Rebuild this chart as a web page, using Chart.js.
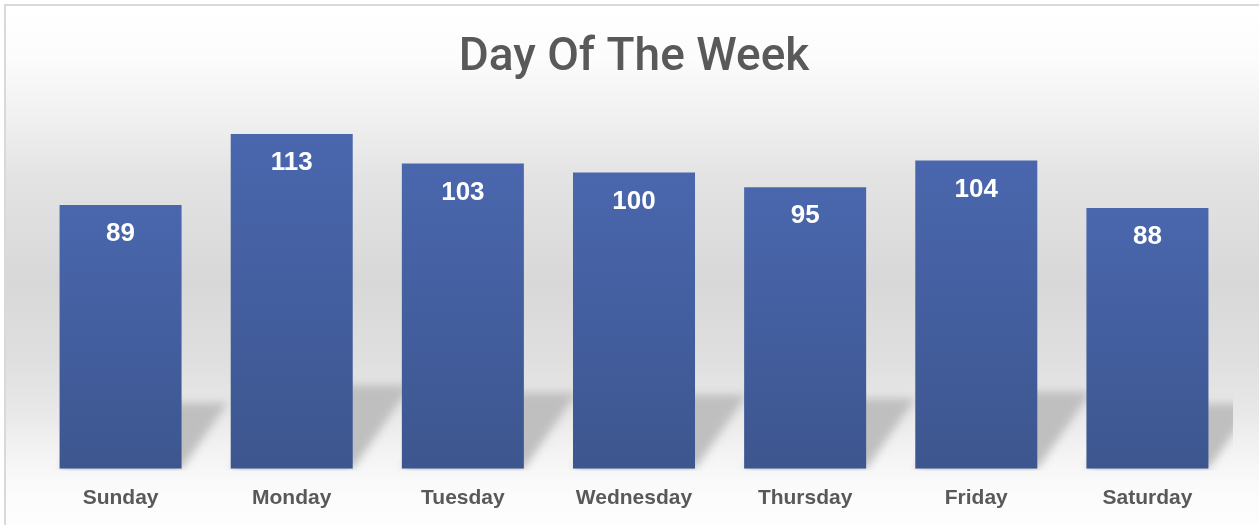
<!DOCTYPE html>
<html>
<head>
<meta charset="utf-8">
<title>Day Of The Week</title>
<script src="https://cdn.jsdelivr.net/npm/chart.js@4.4.1/dist/chart.umd.min.js"></script>
<style>
  html, body { margin: 0; padding: 0; background: #ffffff; }
  #wrap { width: 1259px; height: 525px; position: relative; }
</style>
</head>
<body>
<div id="wrap"><canvas id="dayChart"></canvas></div>
<script>
const days = ['Sunday', 'Monday', 'Tuesday', 'Wednesday', 'Thursday', 'Friday', 'Saturday']
const counts = [89, 113, 103, 100, 95, 104, 88]
const titleText = 'Day Of The Week'

// grey band behind the plot, like the Excel chart style
const backgroundPlugin = {
  id: 'background',
  beforeDraw (chart) {
    const { ctx, width, height } = chart
    ctx.save()
    ctx.fillStyle = '#ffffff'
    ctx.fillRect(0, 0, width, height)
    const g = ctx.createLinearGradient(0, 6, 0, height)
    g.addColorStop(0, '#ffffff')
    g.addColorStop(0.1, '#fcfcfc')
    g.addColorStop(0.2, '#f2f2f2')
    g.addColorStop(0.33, '#e3e3e3')
    g.addColorStop(0.53, '#d8d8d8')
    g.addColorStop(0.68, '#dfdfdf')
    g.addColorStop(0.78, '#e8e8e8')
    g.addColorStop(0.89, '#f7f7f7')
    g.addColorStop(0.95, '#fcfcfc')
    g.addColorStop(1, '#fdfdfd')
    ctx.fillStyle = g
    ctx.fillRect(6, 6, width - 6, height - 6)
    ctx.strokeStyle = '#d9d9d9'
    ctx.lineWidth = 2
    ctx.strokeRect(5, 5, width + 20, height + 20)
    ctx.restore()
  }
}

// slanted shadow falling behind every bar
const shadowPlugin = {
  id: 'barShadow',
  beforeDatasetsDraw (chart) {
    const { ctx, chartArea } = chart
    const bars = chart.getDatasetMeta(0).data
    ctx.save()
    ctx.beginPath()
    ctx.rect(chartArea.left, 0, chartArea.right - chartArea.left, chartArea.bottom + 2)
    ctx.clip()
    ctx.filter = 'blur(4px)'
    ctx.fillStyle = '#bfbfbf'
    bars.forEach(bar => {
      const h = bar.base - bar.y
      const sh = h * 0.25
      const dx = sh * 0.7
      const x0 = bar.x - bar.width / 2
      const x1 = bar.x + bar.width / 2
      ctx.beginPath()
      ctx.moveTo(x0, bar.base)
      ctx.lineTo(x1, bar.base)
      ctx.lineTo(x1 + dx, bar.base - sh)
      ctx.lineTo(x0 + dx, bar.base - sh)
      ctx.closePath()
      ctx.fill()
    })
    ctx.restore()
  }
}

// value labels inside the top of each bar
const valueLabelPlugin = {
  id: 'valueLabels',
  afterDatasetsDraw (chart) {
    const { ctx } = chart
    const bars = chart.getDatasetMeta(0).data
    ctx.save()
    ctx.fillStyle = '#ffffff'
    ctx.font = 'bold 26px "Liberation Sans", Arial, sans-serif'
    ctx.textAlign = 'center'
    ctx.textBaseline = 'middle'
    bars.forEach((bar, i) => {
      ctx.fillText(String(counts[i]), bar.x, bar.y + 29)
    })
    ctx.restore()
  }
}

function barFill (context) {
  const chart = context.chart
  const y = chart.scales.y
  if (!y || context.dataIndex === undefined) return '#4562a4'
  const top = y.getPixelForValue(counts[context.dataIndex])
  const bottom = y.getPixelForValue(0)
  if (!isFinite(top) || !isFinite(bottom) || top === bottom) return '#4562a4'
  const g = chart.ctx.createLinearGradient(0, top, 0, bottom)
  g.addColorStop(0, '#4a67ae')
  g.addColorStop(1, '#3d568f')
  return g
}

new Chart(document.getElementById('dayChart'), {
  type: 'bar',
  data: {
    labels: days,
    datasets: [{
      label: titleText,
      data: counts,
      backgroundColor: barFill,
      borderWidth: 0,
      categoryPercentage: 1,
      barPercentage: 0.713
    }]
  },
  options: {
    responsive: true,
    maintainAspectRatio: false,
    animation: false,
    layout: {
      padding: { left: 35, right: 26, top: 0, bottom: -2 }
    },
    plugins: {
      legend: { display: false },
      tooltip: { enabled: false },
      title: {
        display: true,
        text: titleText,
        color: '#595959',
        font: { family: 'Roboto, "Liberation Sans", sans-serif', size: 46, weight: '500' },
        padding: { top: 31, bottom: 27 }
      }
    },
    scales: {
      x: {
        grid: { display: false, drawTicks: false },
        border: { display: false },
        ticks: {
          color: '#595959',
          padding: 16.5,
          font: { family: '"Liberation Sans", Arial, sans-serif', size: 21, weight: 'bold' }
        }
      },
      y: {
        display: false,
        min: 0,
        max: 120
      }
    }
  },
  plugins: [backgroundPlugin, shadowPlugin, valueLabelPlugin]
})
</script>
</body>
</html>
